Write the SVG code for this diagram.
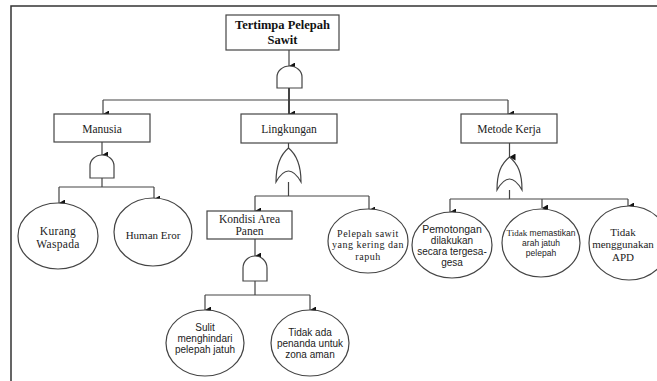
<svg xmlns="http://www.w3.org/2000/svg" width="657" height="381" viewBox="0 0 657 381">
<defs>
<marker id="arr" markerWidth="7" markerHeight="7" refX="3.5" refY="6" orient="auto-start-reverse" markerUnits="userSpaceOnUse" viewBox="0 0 7 7">
<path d="M0,0 L7,0 L3.5,6 Z" fill="#111"/>
</marker>
<style>
.box{fill:#fff;stroke:#444;stroke-width:1.2}
.ell{fill:#fff;stroke:#444;stroke-width:1.2}
.gate{fill:#fff;stroke:#444;stroke-width:1.2}
.ln{fill:none;stroke:#444;stroke-width:1.2}
.ar{fill:none;stroke:#444;stroke-width:1.2;marker-end:url(#arr)}
.t{font-family:"Liberation Serif","Times New Roman",serif;font-size:11.5px;fill:#222;text-anchor:middle}
.tb{font-family:"Liberation Serif","Times New Roman",serif;font-size:12.5px;font-weight:bold;fill:#111;text-anchor:middle}
.ts{font-family:"Liberation Sans",Arial,sans-serif;font-size:10px;fill:#222;text-anchor:middle}
.tss{font-family:"Liberation Sans",Arial,sans-serif;font-size:8.5px;fill:#222;text-anchor:middle}
.frame{fill:none;stroke:#333;stroke-width:1.5}
</style>
</defs>
<rect width="657" height="381" fill="#fff"/>
<path class="frame" d="M11,381 V6 H657"/>

<g id="connectors">
<path class="ar" d="M289,50 V66"/>
<path class="ln" d="M289,88 V100" style="stroke-width:2"/>
<path class="ln" d="M103,100 H508"/>
<path class="ar" d="M103,100 V114"/>
<path class="ar" d="M289,100 V114" style="stroke-width:2"/>
<path class="ar" d="M508,100 V114"/>
<path class="ar" d="M102,142 V155"/>
<path class="ln" d="M102,178 V187 M59,187 H154"/>
<path class="ar" d="M59,187 V203"/>
<path class="ar" d="M154,187 V199"/>
<path class="ln" d="M288.5,143 V148"/>
<path class="ln" d="M288.5,182 V196 M255,196 H369"/>
<path class="ar" d="M255,196 V211"/>
<path class="ar" d="M369,196 V210"/>
<path class="ar" d="M509.5,143 V157"/>
<path class="ln" d="M509.5,190 V199 M450,199 H628"/>
<path class="ar" d="M450,199 V212"/>
<path class="ar" d="M542,199 V208"/>
<path class="ar" d="M628,199 V206"/>
<path class="ar" d="M255,239 V256"/>
<path class="ln" d="M255,281 V295 M205,295 H310"/>
<path class="ar" d="M205,295 V310"/>
<path class="ar" d="M310,295 V310"/>
</g>

<g id="top">
<rect class="box" x="226" y="15" width="113" height="35"/>
<text class="tb" x="282.5" y="29">Tertimpa Pelepah</text>
<text class="tb" x="282.5" y="44">Sawit</text>
</g>
<g id="gate-top"><path class="gate" d="M277,88 V77 A12.5,11 0 0 1 302,77 V88 Z"/></g>

<g id="manusia">
<rect class="box" x="54" y="114" width="96" height="28"/>
<text class="t" x="102" y="133">Manusia</text>
</g>
<g id="gate-manusia"><path class="gate" d="M90,178 V166 A12,11 0 0 1 114,166 V178 Z"/></g>

<g id="lingkungan">
<rect class="box" x="241" y="114" width="96" height="29"/>
<text class="t" x="289" y="133">Lingkungan</text>
</g>
<g id="gate-lingkungan"><path class="gate" d="M276,182 C276,165 280,155 288.5,148 C297,155 301,165 301,182 Q288.5,160 276,182 Z"/></g>

<g id="metode">
<rect class="box" x="461" y="114" width="96" height="29"/>
<text class="t" x="509" y="133">Metode Kerja</text>
</g>
<g id="gate-metode"><path class="gate" d="M497,190 C497,173 501,164 509.5,157 C518,164 522,173 522,190 Q509.5,168 497,190 Z"/></g>

<g id="kurang">
<ellipse class="ell" cx="58" cy="236" rx="40" ry="33"/>
<text class="t" x="58" y="235" style="letter-spacing:0.3px">Kurang</text>
<text class="t" x="58" y="248" style="letter-spacing:0.3px">Waspada</text>
</g>
<g id="human">
<ellipse class="ell" cx="153" cy="232" rx="39" ry="34"/>
<text class="t" x="153" y="239" style="font-size:11px">Human Eror</text>
</g>

<g id="kondisi">
<rect class="box" x="207" y="211" width="85" height="28"/>
<text class="t" x="249.5" y="223">Kondisi Area</text>
<text class="t" x="249.5" y="235">Panen</text>
</g>
<g id="gate-kondisi"><path class="gate" d="M243,281 V268 A12,12 0 0 1 267,268 V281 Z"/></g>

<g id="pelepah">
<ellipse class="ell" cx="368" cy="241" rx="40" ry="32"/>
<text class="t" x="368" y="237" style="font-size:10px;letter-spacing:0.5px">Pelepah sawit</text>
<text class="t" x="368" y="248" style="font-size:10px;letter-spacing:0.5px">yang kering dan</text>
<text class="t" x="368" y="260" style="font-size:10px;letter-spacing:0.5px">rapuh</text>
</g>

<g id="pemotongan">
<ellipse class="ell" cx="452" cy="245" rx="40" ry="33"/>
<text class="ts" x="452" y="233" style="font-size:10.5px">Pemotongan</text>
<text class="ts" x="452" y="244">dilakukan</text>
<text class="ts" x="452" y="255">secara tergesa-</text>
<text class="ts" x="452" y="266">gesa</text>
</g>

<g id="memastikan">
<ellipse class="ell" cx="541" cy="243" rx="39" ry="34"/>
<text class="tss" x="541" y="236"><tspan style="font-family:'Liberation Serif','Times New Roman',serif;font-size:9px">Tidak</tspan> memastikan</text>
<text class="tss" x="541" y="246">arah jatuh</text>
<text class="tss" x="541" y="256">pelepah</text>
</g>

<g id="apd">
<ellipse class="ell" cx="629" cy="243" rx="40" ry="37"/>
<text class="t" x="623" y="236" style="font-size:11px">Tidak</text>
<text class="t" x="623" y="248" style="font-size:11px">menggunakan</text>
<text class="t" x="623" y="261" style="font-size:11px">APD</text>
</g>

<g id="sulit">
<ellipse class="ell" cx="205" cy="343" rx="39" ry="33"/>
<text class="ts" x="205" y="331">Sulit</text>
<text class="ts" x="205" y="342">menghindari</text>
<text class="ts" x="205" y="353">pelepah jatuh</text>
</g>

<g id="tidakada">
<ellipse class="ell" cx="310" cy="343" rx="39" ry="33"/>
<text class="ts" x="310" y="336">Tidak ada</text>
<text class="ts" x="310" y="347">penanda untuk</text>
<text class="ts" x="310" y="358">zona aman</text>
</g>
</svg>
